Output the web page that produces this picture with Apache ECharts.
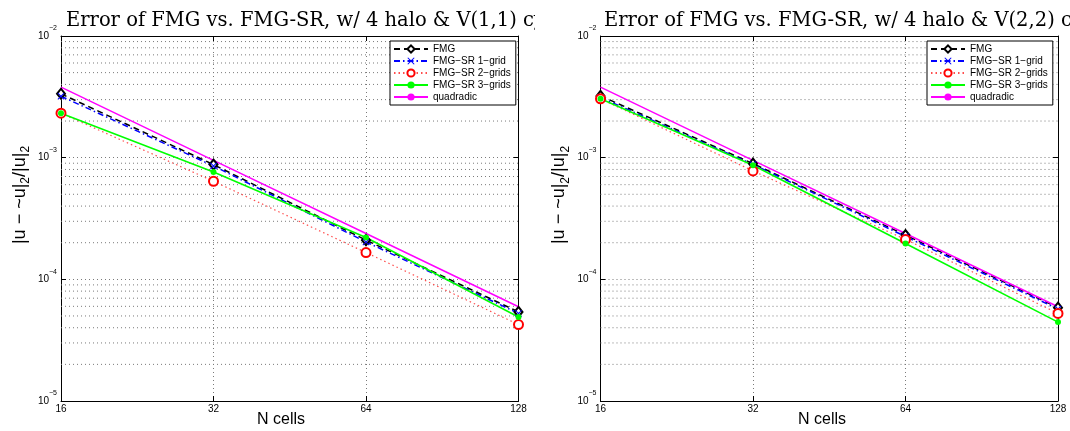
<!DOCTYPE html>
<html><head><meta charset="utf-8">
<script src="https://cdn.jsdelivr.net/npm/echarts@6/dist/echarts.min.js"></script>
<style>
html,body{margin:0;padding:0;background:#fff;width:1070px;height:431px;overflow:hidden}
#c1,#c2{position:absolute;top:0;width:535px;height:431px}
#c1{left:0}#c2{left:535px}
</style></head><body>
<div id="c1"></div><div id="c2"></div>
<script>
// ---- data ----
const nCells = [16, 32, 64, 128];
const xTicks = [16, 32, 64, 128];
const yTicks = [1e-5, 1e-4, 1e-3, 1e-2];
const minorMultipliers = [2, 3, 4, 5, 6, 7, 8, 9];
const seriesNames = ['FMG', 'FMG\u2212SR 1\u2212grid', 'FMG\u2212SR 2\u2212grids', 'FMG\u2212SR 3\u2212grids', 'quadradic'];
const titleLeft = 'Error of FMG vs. FMG-SR, w/ 4 halo & V(1,1) cycles';
const titleRight = 'Error of FMG vs. FMG-SR, w/ 4 halo & V(2,2) cycles';
const xName = 'N cells';

// left panel: V(1,1)
const fmgL  = [3.35e-3, 8.77e-4, 2.10e-4, 5.40e-5];
const sr1L  = [3.20e-3, 8.55e-4, 2.03e-4, 5.25e-5];
const sr2L  = [2.32e-3, 6.40e-4, 1.66e-4, 4.25e-5];
const sr3L  = [2.32e-3, 7.63e-4, 2.21e-4, 4.90e-5];
const quadL = [3.80e-3, 9.50e-4, 2.38e-4, 5.95e-5];
// right panel: V(2,2)
const fmgR  = [3.22e-3, 8.93e-4, 2.31e-4, 5.85e-5];
const sr1R  = [3.12e-3, 8.80e-4, 2.25e-4, 5.70e-5];
const sr2R  = [3.05e-3, 7.78e-4, 2.13e-4, 5.25e-5];
const sr3R  = [3.05e-3, 8.67e-4, 1.97e-4, 4.45e-5];
const quadR = [3.80e-3, 9.50e-4, 2.38e-4, 5.95e-5];

// ---- styling/building ----
const FONT = 'Liberation Sans';
const GRIDC = '#7a7a7a';
const crossPath = 'path://M0,1 L1,0 L5,4 L9,0 L10,1 L6,5 L10,9 L9,10 L5,6 L1,10 L0,9 L4,5 Z';

function pairs(vals){ return nCells.map((n,i)=>[n, vals[i]]); }

const minorVals = [];
for (let k = 0; k < yTicks.length - 1; k++) {
  minorMultipliers.forEach(m => minorVals.push(m * yTicks[k]));
}

function supLabel(v){
  const e = Math.round(Math.log10(v));
  return '{b|10}{s|' + (e < 0 ? '\u2212' : '') + Math.abs(e) + '}';
}

function gridSeries(){
  const xmin = xTicks[0], xmax = xTicks[xTicks.length-1];
  return minorVals.map(v => ({
    name:'_g' + v, type:'line', silent:true, z:1, symbol:'none',
    data:[[xmin, v], [xmax, v]],
    lineStyle:{type:[1,3], color:GRIDC, width:1}
  }));
}

function makeOption(cfg){
  const axisLineStyle = {color:'#000', width:1};
  return {
    animation: false,
    backgroundColor: '#fff',
    title: {
      text: cfg.title, left: cfg.titleLeft, top: 6,
      textStyle: {fontFamily:'DejaVu Serif', fontSize:19.5, fontWeight:'normal', color:'#000'}
    },
    grid: {left: cfg.gl, right: cfg.gr, top: 36, bottom: 30, containLabel: false},
    legend: {
      orient:'vertical', left: cfg.legLeft, top: 41,
      itemWidth: 34, itemHeight: 9, itemGap: 2,
      padding: [3, 5, 3, 3],
      borderColor:'#000', borderWidth:1, backgroundColor:'#fff',
      selectedMode:false,
      textStyle:{fontSize:10, fontFamily:FONT, color:'#000'},
      data: seriesNames
    },
    xAxis: [{
      type:'log', logBase:2, min: xTicks[0], max: xTicks[xTicks.length-1], position:'bottom',
      axisLine:{show:true, onZero:false, lineStyle:axisLineStyle},
      axisTick:{show:true, inside:true, length:5, lineStyle:{color:'#000'}},
      axisLabel:{margin:3, fontSize:10, fontFamily:FONT, color:'#000', formatter:v=>String(Math.round(v))},
      splitLine:{show:true, lineStyle:{type:[1,3], color:GRIDC, width:1}}
    },{
      type:'log', logBase:2, min: xTicks[0], max: xTicks[xTicks.length-1], position:'top',
      axisLine:{show:true, onZero:false, lineStyle:axisLineStyle},
      axisTick:{show:true, inside:true, length:5, lineStyle:{color:'#000'}},
      axisLabel:{show:false}, splitLine:{show:false}
    }],
    yAxis: [{
      type:'log', logBase:10, min: yTicks[0], max: yTicks[yTicks.length-1], position:'left',
      axisLine:{show:true, onZero:false, lineStyle:axisLineStyle},
      axisTick:{show:true, inside:true, length:5, lineStyle:{color:'#000'}},
      axisLabel:{margin:4, color:'#000', fontFamily:FONT, formatter:supLabel, padding:[0,0,6,0],
        rich:{
          b:{fontSize:10, fontFamily:FONT, color:'#000', lineHeight:16, verticalAlign:'bottom'},
          s:{fontSize:7, fontFamily:FONT, color:'#000', lineHeight:8, verticalAlign:'top'}
        }},
      splitLine:{show:true, lineStyle:{type:[1,3], color:GRIDC, width:1}}
    },{
      type:'log', logBase:10, min: yTicks[0], max: yTicks[yTicks.length-1], position:'right',
      axisLine:{show:true, onZero:false, lineStyle:axisLineStyle},
      axisTick:{show:true, inside:true, length:5, lineStyle:{color:'#000'}},
      axisLabel:{show:false}, splitLine:{show:false}
    }],
    graphic: [
      {type:'text', x: cfg.ylabX, y: 195, rotation: Math.PI/2,
       style:{text:'|u \u2212 ~u|{s|2}/|u|{s|2}', fontSize:18, fontFamily:FONT, fill:'#000',
         align:'center', verticalAlign:'middle', lineHeight:24,
         rich:{s:{fontSize:12, fontFamily:FONT, fill:'#000', lineHeight:12, verticalAlign:'bottom'}}}},
      {type:'text', x: cfg.xlabX, y: 420,
       style:{text:xName, fontSize:16, fontFamily:FONT, fill:'#000', align:'center', verticalAlign:'middle'}}
    ],
    series: gridSeries().concat([
      {name:seriesNames[0], type:'line', data:pairs(cfg.d[0]),
       lineStyle:{color:'#000', width:1.5, type:[6,4]},
       symbol:'emptyDiamond', symbolSize:[8,10], itemStyle:{color:'#000', borderWidth:1.5}},
      {name:seriesNames[1], type:'line', data:pairs(cfg.d[1]),
       lineStyle:{color:'#0000ff', width:1.5, type:[6,3,1.5,3]},
       symbol:crossPath, symbolSize:7, itemStyle:{color:'#0000ff'}},
      {name:seriesNames[2], type:'line', data:pairs(cfg.d[2]),
       lineStyle:{color:'#ff4d4d', width:1.2, type:[1.5,3]},
       symbol:'emptyCircle', symbolSize:9, itemStyle:{color:'#ff0000', borderWidth:1.5}},
      {name:seriesNames[3], type:'line', data:pairs(cfg.d[3]),
       lineStyle:{color:'#00ff00', width:1.6, type:'solid'},
       symbol:'circle', symbolSize:6, itemStyle:{color:'#00ff00'}},
      {name:seriesNames[4], type:'line', data:pairs(cfg.d[4]),
       lineStyle:{color:'#ff00ff', width:1.5, type:'solid'},
       symbol:'none', itemStyle:{color:'#ff00ff'}}
    ])
  };
}

const c1 = echarts.init(document.getElementById('c1'), null, {renderer:'canvas'});
c1.setOption(makeOption({title:titleLeft, titleLeft:61, gl:61, gr:16.5, legLeft:390,
  ylabX:20, xlabX:281, d:[fmgL, sr1L, sr2L, sr3L, quadL]}));
const c2 = echarts.init(document.getElementById('c2'), null, {renderer:'canvas'});
c2.setOption(makeOption({title:titleRight, titleLeft:64, gl:65.5, gr:12, legLeft:392,
  ylabX:24.5, xlabX:287, d:[fmgR, sr1R, sr2R, sr3R, quadR]}));
</script>
</body></html>
